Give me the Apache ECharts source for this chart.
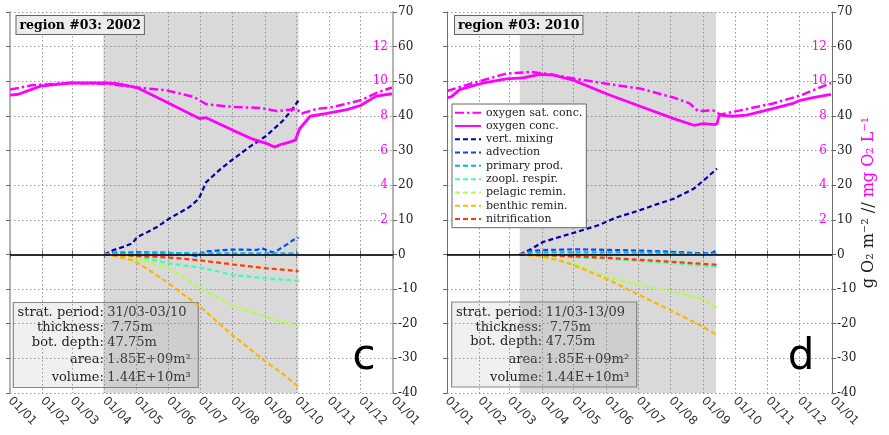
<!DOCTYPE html>
<html><head><meta charset="utf-8">
<script src="https://cdn.jsdelivr.net/npm/echarts@6/dist/echarts.min.js"></script>
<style>html,body{margin:0;padding:0;background:#fff}#c{width:889px;height:435px}</style>
</head><body><div id="c"></div>
<script>
// ---------- tick labels / categories ----------
const monthLabels = ['01/01','01/02','01/03','01/04','01/05','01/06','01/07','01/08','01/09','01/10','01/11','01/12','01/01'];
const monthStartDays = [0,31,59,90,120,151,181,212,243,273,304,334,365];
const seriesNames = ['oxygen sat. conc.','oxygen conc.','vert. mixing','advection','primary prod.','zoopl. respir.','pelagic remin.','benthic remin.','nitrification'];
const panelTitles = ['region #03: 2002','region #03: 2010'];
const panelLetters = ['c','d'];
const stratPeriods = [[89,275],[69,255]];
const infoLabels = ['strat. period:','thickness:','bot. depth:','area:','volume:'];
const infoValues2002 = ['31/03-03/10',' 7.75m','47.75m','1.85E+09m\u00B2','1.44E+10m\u00B3'];
const infoValues2010 = ['11/03-13/09',' 7.75m','47.75m','1.85E+09m\u00B2','1.44E+10m\u00B3'];

// ---------- 2002 (panel c): [day of year, value] ----------
// oxygen in mg O2 L-1
const oxySat2002 = [[0,9.52],[22,9.78],[57,9.90],[92,9.86],[121,9.64],[149,9.48],[175,9.10],[187,8.68],[212,8.52],[238,8.46],[254,8.28],[273,8.40],[278,8.14],[292,8.40],[308,8.52],[334,8.90],[349,9.32],[364,9.64]];
const oxyConc2002 = [[0,9.20],[8,9.25],[29,9.72],[57,9.90],[89,9.90],[102,9.86],[121,9.64],[149,8.80],[181,7.84],[187,7.90],[212,7.18],[232,6.64],[245,6.40],[252,6.20],[258,6.35],[264,6.44],[272,6.60],[276,7.26],[286,7.98],[302,8.14],[321,8.36],[334,8.60],[349,9.14],[364,9.28]];
// budget terms in g O2 m-2
const vertMix2002 = [[90,0],[98,1.2],[110,2.4],[117,3.3],[121,5.0],[130,6.3],[140,7.9],[152,10.4],[171,13.7],[180,16.1],[187,20.9],[200,24.5],[212,27.4],[228,31.0],[244,34.2],[260,38.6],[268,41.5],[275,44.5]];
const advection2002 = [[90,0],[100,0.5],[120,0.6],[150,0.5],[170,0.2],[178,-0.5],[185,0.8],[192,1.0],[210,1.4],[225,1.4],[235,1.3],[240,1.8],[245,1.2],[250,0.6],[254,1.0],[260,2.2],[264,2.9],[270,4.2],[275,4.9]];
const primProd2002 = [[90,0],[100,0.3],[150,0.4],[200,0.3],[250,0.3],[275,0.3]];
const zooResp2002 = [[90,0],[110,-0.2],[124,-0.7],[140,-1.8],[152,-2.6],[181,-3.8],[200,-5.0],[213,-6.0],[241,-6.8],[260,-7.3],[275,-7.6]];
const pelRemin2002 = [[90,0],[110,-0.8],[130,-2.0],[149,-3.6],[165,-6.5],[181,-9.8],[200,-12.8],[212,-14.7],[244,-18.0],[260,-19.5],[275,-20.9]];
const benRemin2002 = [[90,0],[100,-0.5],[117,-1.7],[130,-4.0],[149,-7.9],[165,-11.5],[181,-15.0],[212,-23.3],[244,-31.0],[260,-34.5],[275,-38.2]];
const nitrif2002 = [[90,0],[120,-0.4],[152,-0.9],[181,-1.7],[213,-2.9],[241,-3.9],[275,-4.8]];

// ---------- 2010 (panel d) ----------
const oxySat2010 = [[0,9.44],[25,9.90],[56,10.44],[79,10.54],[98,10.40],[120,10.16],[151,9.86],[183,9.58],[215,9.06],[230,8.72],[238,8.28],[252,8.32],[259,8.08],[278,8.32],[309,8.72],[335,9.18],[364,9.90]];
const oxyConc2010 = [[0,9.06],[4,9.10],[12,9.52],[34,9.90],[56,10.14],[72,10.20],[88,10.40],[101,10.36],[120,10.06],[151,9.28],[183,8.56],[215,7.84],[234,7.46],[243,7.56],[254,7.50],[256,7.55],[258,8.04],[271,7.98],[284,8.04],[309,8.42],[328,8.72],[335,8.90],[347,9.06],[364,9.24]];
const vertMix2010 = [[69,0],[80,1.6],[91,3.6],[105,4.9],[123,6.5],[145,8.6],[160,10.6],[183,12.8],[200,14.6],[215,16.1],[234,19.0],[245,21.8],[256,24.8]];
const advection2010 = [[69,0],[78,1.0],[95,1.3],[123,1.5],[155,1.3],[186,1.1],[211,0.8],[237,0.4],[250,0.3],[256,1.2]];
const primProd2010 = [[69,0],[80,0.6],[150,0.6],[200,0.5],[240,0.1],[256,0.2]];
const zooResp2010 = [[69,0],[100,-0.4],[154,-1.3],[218,-2.6],[256,-3.6]];
const pelRemin2010 = [[69,0],[90,-0.8],[120,-2.6],[151,-6.5],[183,-8.9],[215,-10.8],[240,-12.7],[256,-15.4]];
const benRemin2010 = [[69,0],[88,-0.5],[105,-1.6],[120,-3.1],[151,-7.0],[183,-11.8],[215,-16.6],[240,-20.4],[256,-23.3]];
const nitrif2010 = [[69,0],[100,-0.3],[154,-1.0],[218,-2.2],[256,-3.0]];

// ---------- styling ----------
const colors = ['#ff00ff','#ff00ff','#0000b0','#0050f0','#00b4ff','#3cffb4','#b4ff3c','#ffb400','#ff3c00'];
const SERIF = "'DejaVu Serif', serif";
const SANS = "'DejaVu Sans', sans-serif";

const cats = [];
for (let i = 0; i <= 365; i++) cats.push(String(i));
const isMonth = (idx) => monthStartDays.indexOf(idx) >= 0;

const grids = [
  {left: 10, top: 12, width: 383, height: 381},
  {left: 447, top: 12, width: 385, height: 381}
];
const frameCol = ['#b4b4b4', '#707070'];
const frameW = [2, 1];

const xAxes = [], yAxes = [];
for (let g = 0; g < 2; g++) {
  xAxes.push({
    type: 'category', gridIndex: g, data: cats, boundaryGap: false, position: 'bottom',
    axisLine: {show: true, lineStyle: {color: frameCol[g], width: frameW[g]}},
    axisTick: {show: true, inside: false, length: 4, interval: (i) => isMonth(i), lineStyle: {color: '#666'}},
    axisLabel: {show: true, interval: (i) => isMonth(i), rotate: -45, margin: 6,
      fontFamily: SANS, fontSize: 12, color: '#333',
      formatter: (v) => monthLabels[monthStartDays.indexOf(Number(v))]},
    splitLine: {show: true, interval: (i) => isMonth(i), lineStyle: {color: '#9a9a9a', type: [1.5, 2.5], width: 1}}
  });
  xAxes.push({
    type: 'category', gridIndex: g, data: cats, boundaryGap: false, position: 'top',
    axisLine: {show: true, lineStyle: {color: frameCol[g], width: frameW[g]}},
    axisTick: {show: true, length: 4, interval: (i) => isMonth(i), lineStyle: {color: '#666'}},
    axisLabel: {show: false}, splitLine: {show: false}
  });
  // left frame axis (ticks only)
  yAxes.push({
    type: 'value', gridIndex: g, position: 'left', min: -40, max: 70, interval: 10,
    axisLine: {show: true, lineStyle: {color: frameCol[g], width: frameW[g]}},
    axisTick: {show: true, length: 4, lineStyle: {color: '#666'}},
    axisLabel: {show: false}, splitLine: {show: false}
  });
  // right black axis (g O2 m-2)
  const yr = {
    type: 'value', gridIndex: g, position: 'right', min: -40, max: 70, interval: 10,
    axisLine: {show: true, onZero: false, lineStyle: {color: frameCol[g], width: frameW[g]}},
    axisTick: {show: true, length: 4, lineStyle: {color: '#666'}},
    axisLabel: {show: true, margin: 5, fontFamily: SERIF, fontSize: 12, color: '#222'},
    splitLine: {show: true, lineStyle: {color: '#9a9a9a', type: [1.5, 2.5], width: 1}}
  };
  if (g === 1) {
    yr.name = '{b|g O\u2082 m\u207B\u00B2 // }{m|mg O\u2082 L\u207B\u00B9}';
    yr.nameLocation = 'middle';
    yr.nameRotate = 90;
    yr.nameGap = 29;
    yr.nameTextStyle = {rich: {
      b: {fontFamily: SERIF, fontSize: 16, color: '#222'},
      m: {fontFamily: SERIF, fontSize: 16, color: '#ff00ff'}
    }};
  }
  yAxes.push(yr);
  // magenta axis (mg O2 L-1), labels inside
  yAxes.push({
    type: 'value', gridIndex: g, position: 'right', min: -8, max: 14, interval: 2,
    axisLine: {show: false}, axisTick: {show: false}, splitLine: {show: false},
    axisLabel: {show: true, inside: true, margin: 5, fontFamily: SERIF, fontSize: 12, color: '#ff00ff',
      formatter: (v) => (v >= 2 && v <= 12) ? String(v) : ''}
  });
}

const panelData = [
  [oxySat2002, oxyConc2002, vertMix2002, advection2002, primProd2002, zooResp2002, pelRemin2002, benRemin2002, nitrif2002],
  [oxySat2010, oxyConc2010, vertMix2010, advection2010, primProd2010, zooResp2010, pelRemin2010, benRemin2010, nitrif2010]
];

const series = [];
for (let g = 0; g < 2; g++) {
  // background shading for stratification period + zero line
  series.push({
    type: 'line', name: '_strat' + g, xAxisIndex: g * 2, yAxisIndex: g * 3 + 1, data: [],
    silent: true, z: 1,
    markArea: {silent: true, itemStyle: {color: 'rgba(120,120,120,0.28)'},
      data: [[{xAxis: stratPeriods[g][0]}, {xAxis: stratPeriods[g][1]}]]},
    markLine: {silent: true, symbol: 'none', label: {show: false},
      lineStyle: {color: '#000', type: 'solid', width: 1.5},
      data: [{yAxis: 0}]}
  });
  const d = panelData[g];
  for (let k = 0; k < 9; k++) {
    const isOxy = k < 2;
    let ls;
    if (k === 0) ls = {color: colors[k], width: 2.5, type: [9, 3, 2.5, 3]};
    else if (k === 1) ls = {color: colors[k], width: 2.8, type: 'solid'};
    else ls = {color: colors[k], width: 2.2, type: [5, 3]};
    series.push({
      type: 'line', name: seriesNames[k], xAxisIndex: g * 2, yAxisIndex: g * 3 + (isOxy ? 2 : 1),
      data: d[k], showSymbol: false, symbol: 'none', smooth: false,
      lineStyle: ls, itemStyle: {color: colors[k]}, z: isOxy ? 5 : 4, animation: false
    });
  }
}

function infoBox(x, y, values) {
  const children = [{type: 'rect', shape: {x: 0, y: 0, width: 185, height: 85},
    style: {fill: '#f0f0f0', stroke: '#888', lineWidth: 1.2}}];
  const rows = [10.5, 25.5, 40, 57.5, 75.5];
  for (let i = 0; i < 5; i++) {
    children.push({type: 'text', x: 90.5, y: rows[i], style: {text: infoLabels[i], font: "13px 'DejaVu Serif'", fill: '#222', align: 'right', verticalAlign: 'middle'}});
    children.push({type: 'text', x: 94, y: rows[i], style: {text: values[i], font: "13px 'DejaVu Serif'", fill: '#222', align: 'left', verticalAlign: 'middle'}});
  }
  return {type: 'group', x: x, y: y, z: 100, children: children};
}

const graphic = [
  {type: 'text', x: 16.5, y: 16, z: 100, style: {text: panelTitles[0], font: "bold 12.5px 'DejaVu Serif'", fill: '#000',
    backgroundColor: '#ececec', borderColor: '#666', borderWidth: 1, padding: [3, 3, 2, 3]}},
  {type: 'text', x: 455, y: 16, z: 100, style: {text: panelTitles[1], font: "bold 12.5px 'DejaVu Serif'", fill: '#000',
    backgroundColor: '#ececec', borderColor: '#666', borderWidth: 1, padding: [3, 3, 2, 3]}},
  infoBox(13.3, 302.5, infoValues2002),
  infoBox(451.7, 302, infoValues2010),
  {type: 'text', x: 364, y: 358, z: 100, style: {text: panelLetters[0], font: "42px 'DejaVu Sans'", fill: '#000', align: 'center', verticalAlign: 'middle'}},
  {type: 'text', x: 801, y: 358, z: 100, style: {text: panelLetters[1], font: "42px 'DejaVu Sans'", fill: '#000', align: 'center', verticalAlign: 'middle'}}
];

const chart = echarts.init(document.getElementById('c'), null, {renderer: 'canvas'});
chart.setOption({
  animation: false,
  backgroundColor: '#fff',
  grid: grids,
  xAxis: xAxes,
  yAxis: yAxes,
  legend: {
    show: true, data: seriesNames, orient: 'vertical', left: 452, top: 104,
    backgroundColor: '#fff', borderColor: '#666', borderWidth: 1, padding: [2, 4, 2, 2],
    itemWidth: 26, itemHeight: 8, itemGap: 0, selectedMode: false,
    itemStyle: {opacity: 0},
    textStyle: {fontFamily: SERIF, fontSize: 11, color: '#222', lineHeight: 13.3}
  },
  series: series,
  graphic: graphic
});
</script></body></html>
